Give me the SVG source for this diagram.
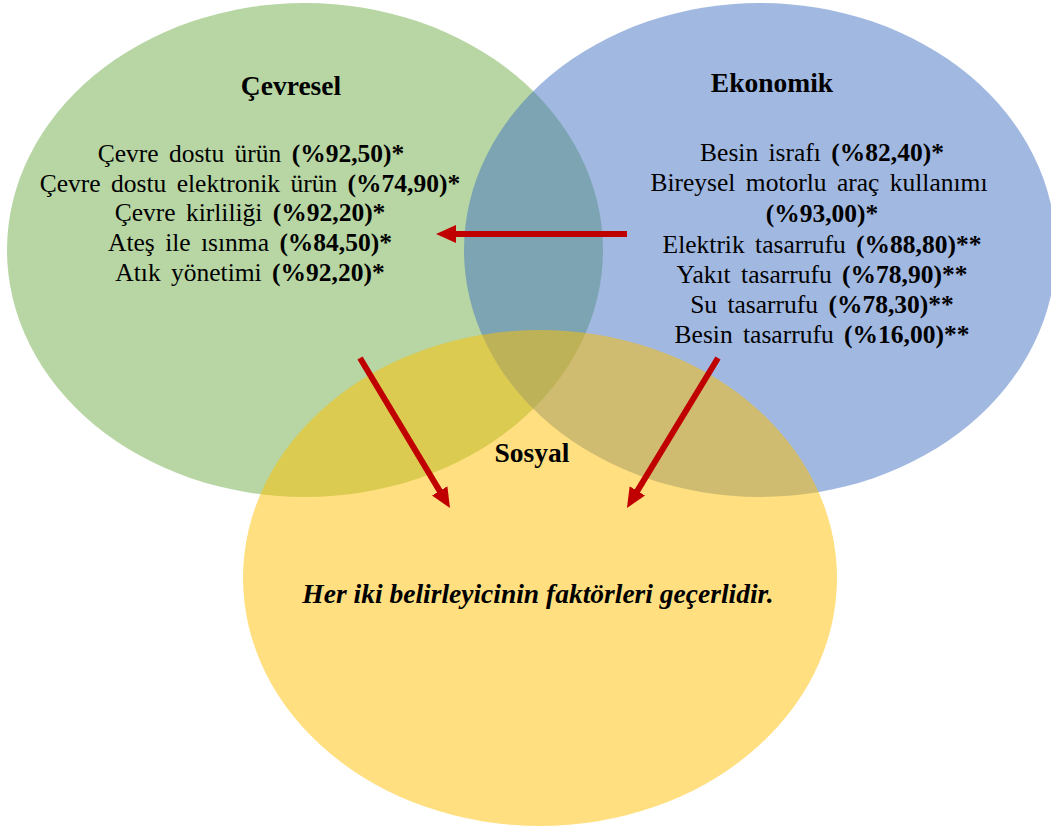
<svg xmlns="http://www.w3.org/2000/svg" width="1051" height="827" viewBox="0 0 1051 827">
<style>
.t{font-family:"Liberation Serif","Times New Roman",serif;font-size:25.5px;word-spacing:4px;fill:#000;text-anchor:middle}
.h{font-family:"Liberation Serif","Times New Roman",serif;font-size:27.5px;font-weight:bold;fill:#000;text-anchor:middle}
.b{font-weight:bold}
.arr{stroke:#c00000;stroke-width:6;fill:none}
</style>
<defs>
<marker id="ah" markerUnits="userSpaceOnUse" markerWidth="20" markerHeight="20" viewBox="0 0 20 20" refX="2" refY="10" orient="auto">
<path d="M0,1 L20,10 L0,19 z" fill="#c00000"/>
</marker>
</defs>
<rect width="1051" height="827" fill="#fff"/>
<g id="node-cevresel">
<ellipse cx="305" cy="250" rx="298" ry="247" fill="#70ad47" fill-opacity="0.5"/>
</g>
<g id="node-ekonomik">
<ellipse cx="760" cy="250" rx="296" ry="247" fill="#4472c4" fill-opacity="0.5"/>
</g>
<g id="node-sosyal">
<ellipse cx="540" cy="578" rx="297" ry="248" fill="#ffc000" fill-opacity="0.5"/>
</g>
<g id="labels-cevresel">
<text class="h" x="291" y="95">Çevresel</text>
<text class="t" x="251" y="162">Çevre dostu ürün <tspan class="b">(%92,50)*</tspan></text>
<text class="t" x="250" y="192">Çevre dostu elektronik ürün <tspan class="b">(%74,90)*</tspan></text>
<text class="t" x="250" y="221">Çevre kirliliği <tspan class="b">(%92,20)*</tspan></text>
<text class="t" x="250" y="251">Ateş ile ısınma <tspan class="b">(%84,50)*</tspan></text>
<text class="t" x="250" y="281">Atık yönetimi <tspan class="b">(%92,20)*</tspan></text>
</g>
<g id="labels-ekonomik">
<text class="h" x="772" y="92">Ekonomik</text>
<text class="t" x="822" y="161">Besin israfı <tspan class="b">(%82,40)*</tspan></text>
<text class="t" x="819" y="191">Bireysel motorlu araç kullanımı</text>
<text class="t b" x="822" y="222">(%93,00)*</text>
<text class="t" x="822" y="253">Elektrik tasarrufu <tspan class="b">(%88,80)**</tspan></text>
<text class="t" x="822" y="283">Yakıt tasarrufu <tspan class="b">(%78,90)**</tspan></text>
<text class="t" x="822" y="313">Su tasarrufu <tspan class="b">(%78,30)**</tspan></text>
<text class="t" x="822" y="343">Besin tasarrufu <tspan class="b">(%16,00)**</tspan></text>
</g>
<g id="labels-sosyal">
<text class="h" x="532" y="462">Sosyal</text>
<text class="h" x="538" y="603" font-style="italic" font-size="28">Her iki belirleyicinin faktörleri geçerlidir.</text>
</g>
<g id="connectors">
<line class="arr" x1="627" y1="234" x2="454" y2="234" marker-end="url(#ah)"/>
<line class="arr" x1="360" y1="358" x2="440.7" y2="492.6" marker-end="url(#ah)"/>
<line class="arr" x1="718" y1="358" x2="636.3" y2="492.6" marker-end="url(#ah)"/>
</g>
</svg>
